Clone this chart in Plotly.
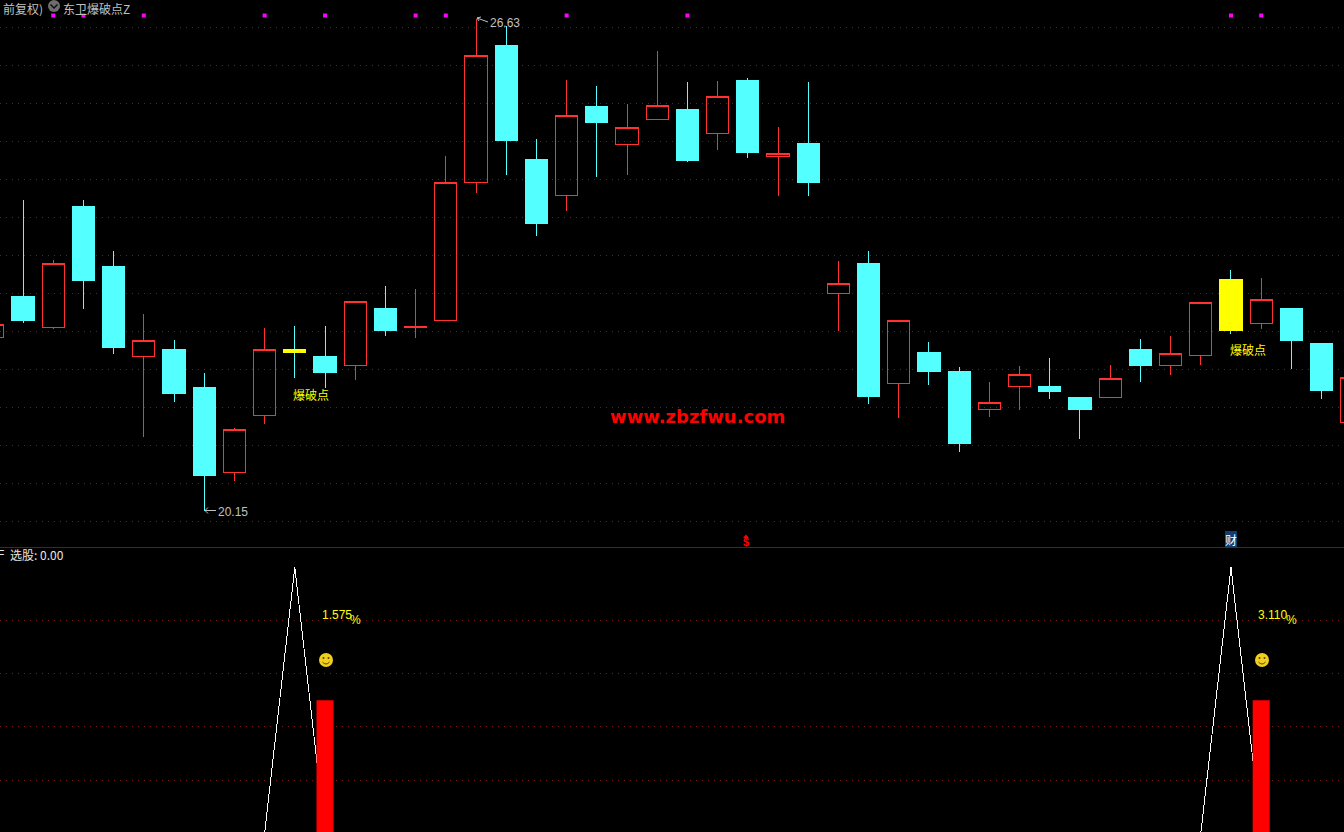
import plotly.graph_objects as go

W, H = 1344, 832

# ---- candles, index -1 .. 44 ----
idx = list(range(-1, 45))
opens  = [22.43,22.97,22.57,24.16,23.37,22.18,22.27,21.77,20.66,21.41,22.28,22.19,22.07,22.82,22.56,22.66,24.47,26.27,24.78,24.30,25.47,24.97,25.30,25.43,25.12,25.82,24.82,24.98,23.01,23.41,21.83,22.24,21.99,21.49,21.79,21.79,21.64,21.64,22.28,22.07,22.20,23.20,22.62,22.82,22.35,21.32]
highs  = [22.61,24.24,23.45,24.24,23.57,22.74,22.40,21.97,21.24,22.56,22.58,22.58,22.91,23.11,23.07,24.82,26.63,26.53,25.05,25.82,25.74,25.51,26.20,25.80,25.81,25.85,25.20,25.80,23.44,23.57,22.66,22.37,22.05,21.85,22.06,22.16,21.64,22.07,22.41,22.45,22.90,23.32,23.22,22.82,22.35,21.91]
lows   = [22.43,22.62,22.55,22.81,22.22,21.12,21.58,20.15,20.54,21.29,21.90,21.77,21.87,22.45,22.43,22.66,24.34,24.57,23.77,24.10,24.55,24.57,25.30,24.74,24.90,24.80,24.30,24.30,22.52,21.56,21.37,21.81,20.93,21.39,21.48,21.62,21.10,21.64,21.85,21.94,22.07,22.48,22.55,22.02,21.62,21.32]
closes = [22.61,22.66,23.41,23.18,22.30,22.40,21.70,20.62,21.22,22.28,22.23,21.97,22.91,22.52,22.58,24.47,26.14,25.02,23.93,25.36,25.26,25.19,25.49,24.76,25.60,24.87,24.85,24.47,23.15,21.66,22.66,21.99,21.04,21.58,21.95,21.72,21.49,21.89,22.06,22.22,22.90,22.52,22.93,22.40,21.73,21.91]

# yellow "breakout" candle bodies
break_idx    = [9, 40]
break_top    = [22.28, 23.20]
break_bottom = [22.23, 22.52]

# magenta signal dots along the top
signal_idx = [1, 2, 4, 8, 10, 13, 14, 18, 22, 40, 41]
signal_lvl = [26.67] * len(signal_idx)

# lower pane
pick_values = [0,0,0,0,0,0,0,0,0,0,1,0,0,0,0,0,0,0,0,0,0,0,0,0,0,0,0,0,0,0,0,0,0,0,0,0,0,0,0,0,0,1,0,0,0,0]
bar_idx = [10, 41]
bar_val = [0.5, 0.5]

price_grid = [20.014, 20.514, 21.014, 21.514, 22.014, 22.514, 23.014, 23.514, 24.014, 24.514, 25.014, 25.514, 26.014, 26.514]
lower_grid = [0.2, 0.4, 0.6, 0.8]

RED = "#FF3232"
CYAN = "#54FFFF"
YEL = "#FFFF00"
GRAY = "#C0C0C0"
GRID = "#7A1616"
CJK = "Noto Sans CJK SC, Liberation Sans, sans-serif"
LAT = "Liberation Sans, sans-serif"


def px(x):
    return x / W


def py(y):
    return 1 - y / H


fig = go.Figure()
fig.add_trace(go.Candlestick(
    x=idx, open=opens, high=highs, low=lows, close=closes,
    whiskerwidth=0,
    increasing=dict(line=dict(color=RED, width=1), fillcolor="rgba(0,0,0,0)"),
    decreasing=dict(line=dict(color=CYAN, width=1), fillcolor=CYAN),
    xaxis="x", yaxis="y", showlegend=False, hoverinfo="skip",
))
fig.add_trace(go.Candlestick(
    x=break_idx, open=break_top, high=break_top, low=break_bottom, close=break_bottom,
    whiskerwidth=0,
    decreasing=dict(line=dict(color=YEL, width=1), fillcolor=YEL),
    increasing=dict(line=dict(color=YEL, width=1), fillcolor=YEL),
    xaxis="x", yaxis="y", showlegend=False, hoverinfo="skip",
))
fig.add_trace(go.Scatter(
    x=signal_idx, y=signal_lvl, mode="markers",
    marker=dict(symbol="square", size=4, color="#FF00FF", line=dict(width=0)),
    xaxis="x", yaxis="y", showlegend=False, hoverinfo="skip",
))
fig.add_trace(go.Scatter(
    x=idx, y=pick_values, mode="lines",
    line=dict(color="#FFFFFF", width=1),
    xaxis="x2", yaxis="y2", showlegend=False, hoverinfo="skip",
))
fig.add_trace(go.Bar(
    x=bar_idx, y=bar_val, width=0.563,
    marker=dict(color="#FF0000", line=dict(width=0)),
    xaxis="x2", yaxis="y3", showlegend=False, hoverinfo="skip",
))

xr = [-0.7616, 43.742]
hidden = dict(showticklabels=False, ticks="", zeroline=False, showline=False)
top_dom = [py(547), 1]
low_dom = [0, py(548)]
fig.update_layout(
    width=W, height=H, margin=dict(l=0, r=0, t=0, b=0),
    paper_bgcolor="#000000", plot_bgcolor="#000000",
    boxmode="overlay", boxgap=0.27, boxgroupgap=0, hovermode=False, showlegend=False,
    xaxis=dict(range=xr, domain=[0, 1], anchor="y", showgrid=False, rangeslider=dict(visible=False), **hidden),
    xaxis2=dict(range=xr, domain=[0, 1], anchor="y2", showgrid=False, **hidden),
    yaxis=dict(range=[19.677, 26.874], domain=top_dom, anchor="x", tickvals=price_grid,
               showgrid=True, gridcolor=GRID, griddash="1px,5px", gridwidth=1, **hidden),
    yaxis2=dict(range=[0.005, 1.0726], domain=low_dom, anchor="x2", tickvals=lower_grid,
                showgrid=True, gridcolor=GRID, griddash="1px,5px", gridwidth=1, **hidden),
    yaxis3=dict(range=[0.005, 1.0726], domain=low_dom, anchor="x2", overlaying="y2", showgrid=False, **hidden),
)


def label(x, y, text, color=GRAY, size=12, family=CJK, anchor="left", **kw):
    fig.add_annotation(xref="paper", yref="paper", x=px(x), y=py(y), text=text, showarrow=False,
                       xanchor=anchor, yanchor="middle", align="left",
                       font=dict(color=color, size=size, family=family),
                       borderpad=0, borderwidth=0, **kw)


label(3, 8.5, "前复权)")
label(63, 8.5, "东卫爆破点Z")
label(218, 511.5, "20.15", family=LAT)
label(490, 23, "26.63", family=LAT)
label(293, 394, "爆破点", color=YEL)
label(1230, 350, "爆破点", color=YEL)
label(610, 416.5, "<b>www.zbzfwu.com</b>", color="#FF0000", size=18, family="DejaVu Sans, sans-serif")
label(10, 554.5, "选股: 0.00", color="#E6E6E6")
label(3.5, 555, "F", color="#E6E6E6", anchor="right", family=LAT)
label(322, 615, "1.575", color=YEL, family=LAT)
label(350, 620, "%", color=YEL, family=LAT)
label(1258, 615, "3.110", color=YEL, family=LAT)
label(1286, 620, "%", color=YEL, family=LAT)
label(746, 542, "<b>$</b>", color="#FF0000", size=11, family=LAT, anchor="center")
label(1230.5, 539.5, "财", color="#FFFFFF", size=12, anchor="center", bgcolor="#0F3C73")

# small triangle on top of the $ flag
fig.add_shape(type="path", xref="paper", yref="paper",
              path=f"M {px(743)} {py(538)} L {px(746)} {py(534.5)} L {px(749)} {py(538)} Z",
              fillcolor="#FF0000", line=dict(width=0))


def arrow(x0, y0, x1, y1):
    fig.add_shape(type="line", xref="paper", yref="paper", x0=px(x0), y0=py(y0), x1=px(x1), y1=py(y1),
                  line=dict(color=GRAY, width=1))


# arrows pointing to the extreme candles
arrow(205, 510.5, 216, 510.5)
arrow(205, 510.5, 208, 507.5)
arrow(205, 510.5, 208, 513.5)
arrow(477, 18, 488, 22)
arrow(477, 18, 481, 17)
arrow(477, 18, 479, 21)

# separator between the panes
fig.add_shape(type="line", xref="paper", yref="paper", x0=0, x1=1, y0=py(547.5), y1=py(547.5),
              line=dict(color="#A00000", width=1))


def circle(cx, cy, r, color):
    fig.add_shape(type="circle", xref="paper", yref="paper", x0=px(cx - r), x1=px(cx + r),
                  y0=py(cy + r), y1=py(cy - r), fillcolor=color, line=dict(width=0))


# chevron badge
circle(54, 6, 6, "#6E6E6E")
fig.add_shape(type="path", xref="paper", yref="paper",
              path=f"M {px(50.5)} {py(4.5)} L {px(54)} {py(8)} L {px(57.5)} {py(4.5)}",
              line=dict(color="#101010", width=1.5))

# smileys
for cx in (326, 1262):
    circle(cx, 660, 7, "#F0CF1E")
    circle(cx - 2.5, 658, 1, "#5A4500")
    circle(cx + 2.5, 658, 1, "#5A4500")
    fig.add_shape(type="path", xref="paper", yref="paper",
                  path=f"M {px(cx-3.5)} {py(662)} Q {px(cx)} {py(666)} {px(cx+3.5)} {py(662)}",
                  line=dict(color="#5A4500", width=1))

crisp = ("var s=document.createElement('style');"
         "s.textContent='.boxlayer path,.gridlayer path,.scatterlayer .js-line{shape-rendering:crispEdges !important}';"
         "document.head.appendChild(s);"
         "document.body.style.margin='0';document.body.style.background='#000';document.body.style.overflow='hidden';")
fig.write_html("out.html", config=dict(displayModeBar=False), post_script=crisp)
